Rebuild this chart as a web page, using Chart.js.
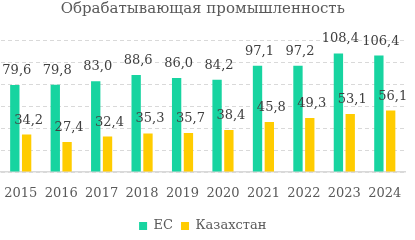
<!DOCTYPE html>
<html>
<head>
<meta charset="utf-8">
<script src="https://cdn.jsdelivr.net/npm/chart.js@4"></script>
<style>
html,body{margin:0;padding:0;background:#fff;}
#wrap{width:415px;height:240px;position:relative;}
</style>
</head>
<body>
<div id="wrap"><canvas id="c"></canvas></div>
<script>
const years = ['2015','2016','2017','2018','2019','2020','2021','2022','2023','2024'];
const ecValues = [79.6, 79.8, 83.0, 88.6, 86.0, 84.2, 97.1, 97.2, 108.4, 106.4];
const kzValues = [34.2, 27.4, 32.4, 35.3, 35.7, 38.4, 45.8, 49.3, 53.1, 56.1];
const seriesNames = ['ЕС', 'Казахстан'];
const titleText = 'Обрабатывающая промышленность';

const FONT = "'DejaVu Serif', serif";
const fmt = v => v.toFixed(1).replace('.', ',');

const labelPlugin = {
  id: 'barLabels',
  afterDatasetsDraw(chart) {
    const ctx = chart.ctx;
    ctx.save();
    ctx.font = '13px ' + FONT;
    ctx.fillStyle = '#404040';
    ctx.textAlign = 'center';
    ctx.textBaseline = 'alphabetic';
    chart.data.datasets.forEach((ds, di) => {
      const meta = chart.getDatasetMeta(di);
      meta.data.forEach((bar, i) => {
        ctx.fillText(fmt(ds.data[i]), bar.x + 2, bar.y - 11);
      });
    });
    ctx.restore();
  }
};

new Chart(document.getElementById('c'), {
  type: 'bar',
  data: {
    labels: years,
    datasets: [
      { label: seriesNames[0], data: ecValues, backgroundColor: '#17D4A0', barPercentage: 0.79, categoryPercentage: 0.584 },
      { label: seriesNames[1], data: kzValues, backgroundColor: '#FFCC00', barPercentage: 0.79, categoryPercentage: 0.584 }
    ]
  },
  options: {
    responsive: true,
    maintainAspectRatio: false,
    animation: false,
    devicePixelRatio: 1,
    layout: { padding: { left: 0.5, right: 10, top: 0, bottom: 0 } },
    plugins: {
      title: {
        display: true,
        text: titleText,
        color: '#595959',
        font: { family: FONT, size: 15, weight: 'normal' },
        padding: { top: 0, bottom: 22.7 }
      },
      legend: {
        display: true,
        position: 'bottom',
        maxHeight: 28.5,
        labels: {
          color: '#595959',
          font: { family: FONT, size: 13 },
          boxWidth: 8,
          boxHeight: 8,
          padding: 8
        }
      },
      tooltip: { enabled: false }
    },
    scales: {
      x: {
        grid: { display: false, drawTicks: false },
        border: { display: true, color: '#d9d9d9', width: 1.5 },
        ticks: { color: '#595959', font: { family: FONT, size: 13 }, padding: 14, maxRotation: 0 },
        afterFit: s => { s.height = 39.5; s.paddingLeft = 0; s.paddingRight = 0; }
      },
      y: {
        min: 0, max: 120,
        ticks: { display: false, stepSize: 20 },
        border: { display: false, dash: [4, 3] },
        grid: { color: '#d9d9d9', lineWidth: 1, drawTicks: false },
        afterFit: s => { s.width = 0; }
      }
    }
  },
  plugins: [labelPlugin]
});
</script>
</body>
</html>
